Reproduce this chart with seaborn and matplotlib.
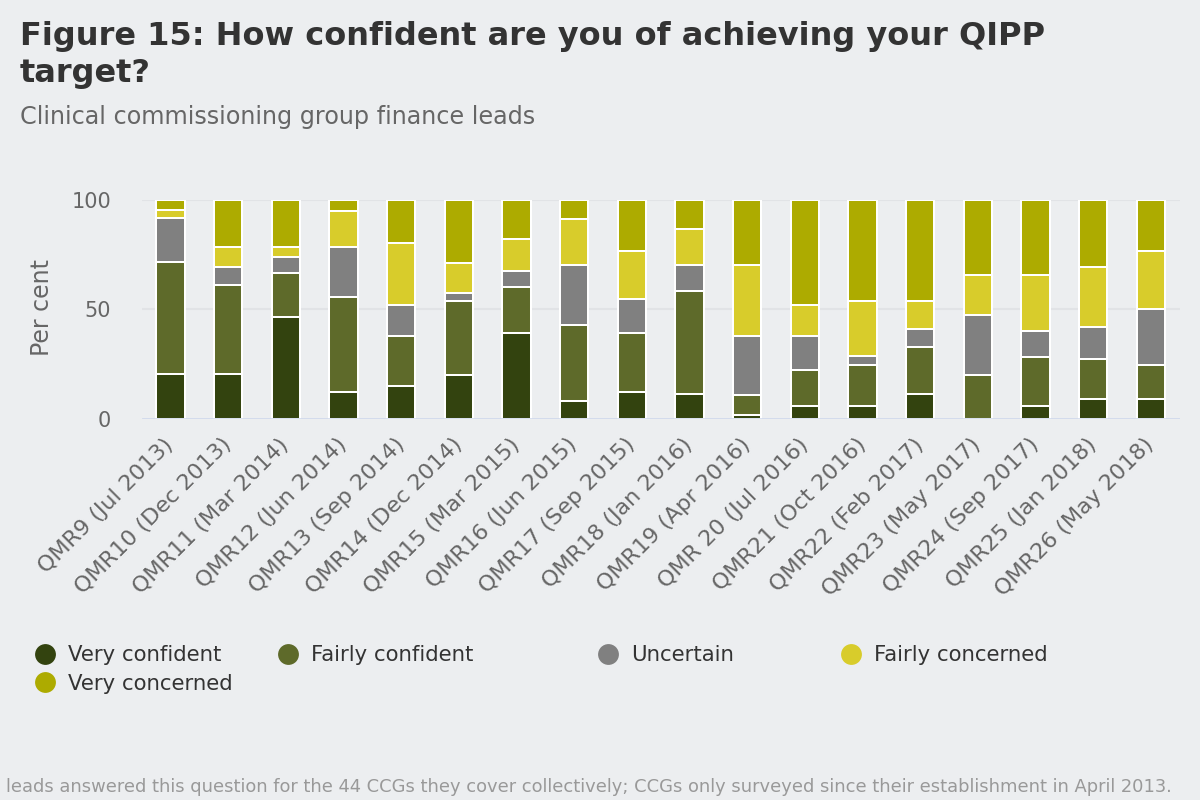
import matplotlib
matplotlib.use("Agg")
import matplotlib.pyplot as plt
import seaborn as sns
import pandas as pd
import numpy as np
from matplotlib.lines import Line2D

# ---- data ----
categories = [
    "QMR9 (Jul 2013)", "QMR10 (Dec 2013)", "QMR11 (Mar 2014)", "QMR12 (Jun 2014)",
    "QMR13 (Sep 2014)", "QMR14 (Dec 2014)", "QMR15 (Mar 2015)", "QMR16 (Jun 2015)",
    "QMR17 (Sep 2015)", "QMR18 (Jan 2016)", "QMR19 (Apr 2016)", "QMR 20 (Jul 2016)",
    "QMR21 (Oct 2016)", "QMR22 (Feb 2017)", "QMR23 (May 2017)", "QMR24 (Sep 2017)",
    "QMR25 (Jan 2018)", "QMR26 (May 2018)",
]
very_confident = [20.5, 20.5, 46.5, 12.6, 15.3, 19.9, 39.1, 8.1, 12.6, 11.7, 1.7, 6.2, 6.2, 11.7, 0.0, 6.2, 9.0, 9.0]
fairly_confident = [51.0, 40.5, 20.0, 42.9, 22.8, 33.7, 20.9, 34.6, 26.5, 46.5, 9.1, 16.4, 18.3, 21.0, 19.9, 21.9, 18.2, 15.5]
uncertain = [20.0, 8.2, 7.3, 22.8, 13.7, 3.7, 7.3, 27.4, 15.5, 11.9, 27.3, 15.5, 4.5, 8.2, 27.4, 11.9, 14.6, 25.5]
fairly_concerned = [3.9, 9.2, 4.6, 16.4, 28.3, 13.7, 14.6, 20.9, 21.8, 16.4, 32.0, 13.7, 24.6, 12.7, 18.2, 25.5, 27.3, 26.4]
very_concerned = [4.6, 21.6, 21.6, 5.3, 19.9, 29.0, 18.1, 9.0, 23.6, 13.5, 29.9, 48.2, 46.4, 46.4, 34.5, 34.5, 30.9, 23.6]

series_names = ["Very confident", "Fairly confident", "Uncertain", "Fairly concerned", "Very concerned"]
series_colors = ["#33430f", "#5e6a2a", "#808080", "#d8cc2b", "#adab00"]
y_ticks = [0, 50, 100]

df = pd.DataFrame({
    "category": categories,
    "Very confident": very_confident,
    "Fairly confident": fairly_confident,
    "Uncertain": uncertain,
    "Fairly concerned": fairly_concerned,
    "Very concerned": very_concerned,
})
cum = df[series_names].cumsum(axis=1)

BG = "#eceef0"
sns.set_theme(style="white")
plt.rcParams["font.family"] = ["DejaVu Sans"]

fig = plt.figure(figsize=(12, 8), dpi=100, facecolor=BG)
ax = fig.add_axes([0.118, 0.476, 0.865, 0.2745])
ax.set_facecolor(BG)

# grid lines
for yv in y_ticks[1:]:
    ax.axhline(yv, color="#e1e3e6", lw=1.5, zorder=0)

# stacked bars: draw cumulative totals from top series down
for name, col in reversed(list(zip(series_names, series_colors))):
    sns.barplot(x=df["category"], y=cum[name], color=col, saturation=1,
                width=0.49, edgecolor="white", linewidth=1.45, errorbar=None,
                ax=ax, zorder=2)

ax.axhline(0, color="#ccd6eb", lw=1.8, zorder=5)
ax.set_ylim(0, 100)
ax.set_xlim(-0.5, len(categories) - 0.5)
for s in ax.spines.values():
    s.set_visible(False)

ax.set_yticks(y_ticks)
ax.set_yticklabels([str(v) for v in y_ticks], fontsize=15, color="#666666")
ax.tick_params(axis="y", length=0, pad=22)
ax.set_xlabel("")
ax.set_ylabel("")
fig.text(42 / 1200, 1 - 308 / 800, "Per cent", rotation=90, fontsize=17,
         color="#666666", ha="center", va="center")
ax.set_xticks(range(len(categories)))
ax.set_xticklabels(categories, rotation=45, ha="right", va="center",
                   rotation_mode="anchor", fontsize=16, color="#666666")
ax.tick_params(axis="x", length=0, pad=16)

# title & subtitle
fig.text(20 / 1200, 1 - 45 / 800, "Figure 15: How confident are you of achieving your QIPP",
         fontsize=23, fontweight="bold", color="#333333", ha="left", va="baseline")
fig.text(20 / 1200, 1 - 82 / 800, "target?",
         fontsize=23, fontweight="bold", color="#333333", ha="left", va="baseline")
fig.text(20 / 1200, 1 - 124 / 800, "Clinical commissioning group finance leads",
         fontsize=17.2, color="#666666", ha="left", va="baseline")

# legend (Highcharts-style fixed columns)
handles = {n: Line2D([], [], marker="o", linestyle="", markersize=15, markerfacecolor=c,
                     markeredgewidth=0) for n, c in zip(series_names, series_colors)}
groups = [
    (["Very confident", "Very concerned"], 34),
    (["Fairly confident"], 277),
    (["Uncertain"], 597),
    (["Fairly concerned"], 840),
]
for names, xpx in groups:
    leg = fig.legend([handles[n] for n in names], names, loc="upper left",
                     bbox_to_anchor=(xpx / 1200, 1 - 645 / 800), frameon=False,
                     fontsize=15.3, handletextpad=0.6, handlelength=1.0,
                     labelspacing=0.42, borderaxespad=0, borderpad=0)
    for t in leg.get_texts():
        t.set_color("#333333")

fig.text(1172 / 1200, 1 - 792 / 800,
         "leads answered this question for the 44 CCGs they cover collectively; CCGs only surveyed since their establishment in April 2013.",
         fontsize=12.9, color="#999999", ha="right", va="baseline")

fig.savefig("out.png", dpi=100, facecolor=BG)
